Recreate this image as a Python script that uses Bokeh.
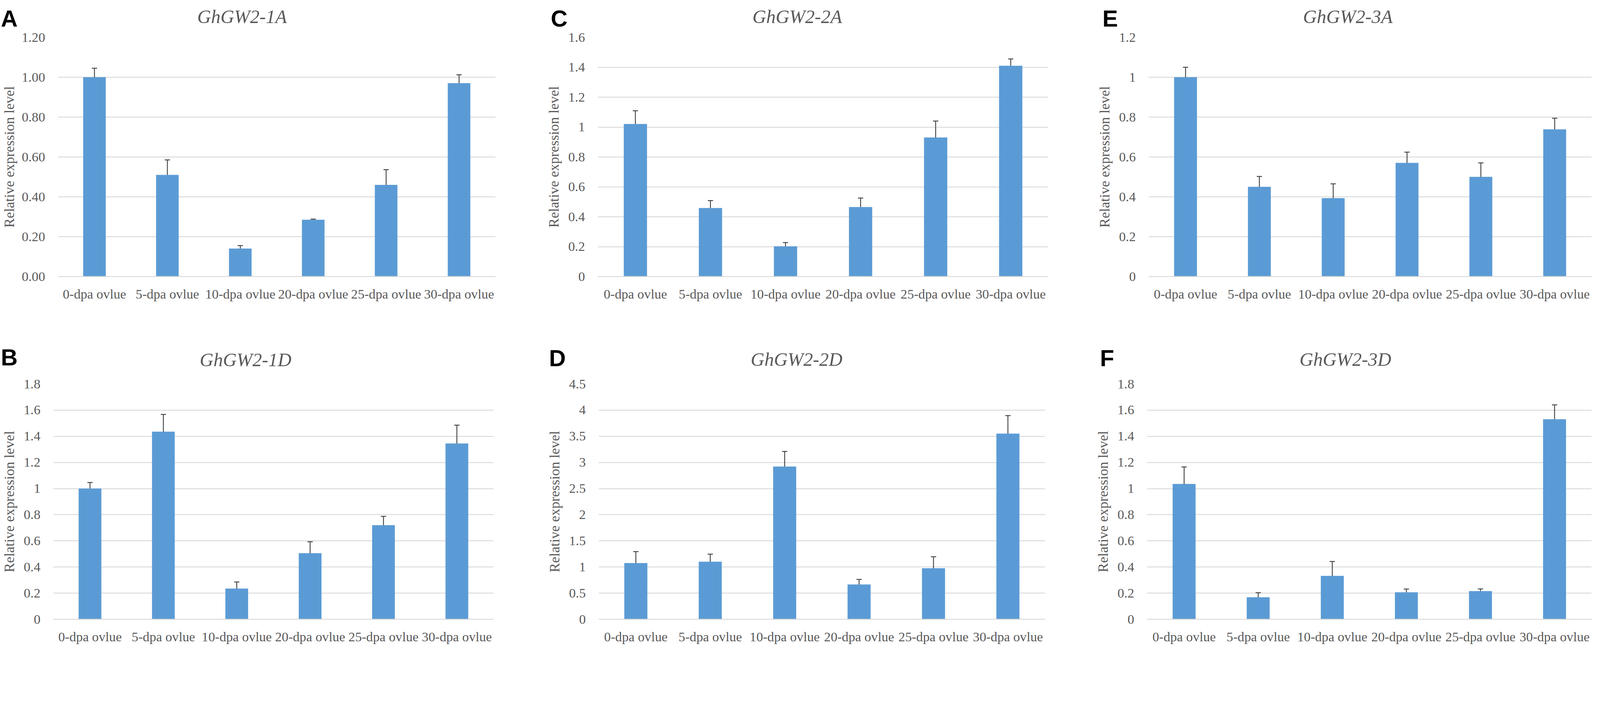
from bokeh.plotting import figure
from bokeh.layouts import column, row
from bokeh.models import (Range1d, FixedTicker, NumeralTickFormatter, Whisker,
                          ColumnDataSource, TeeHead)
from bokeh.core.properties import value
from bokeh.embed import file_html
from bokeh.resources import INLINE

# ---------------- data ----------------
categories = ["0-dpa ovlue", "5-dpa ovlue", "10-dpa ovlue",
              "20-dpa ovlue", "25-dpa ovlue", "30-dpa ovlue"]

genes = ["GhGW2-1A", "GhGW2-1D", "GhGW2-2A", "GhGW2-2D", "GhGW2-3A", "GhGW2-3D"]
letters = ["A", "B", "C", "D", "E", "F"]

vals_1A = [1.00, 0.51, 0.14, 0.285, 0.46, 0.97]
err_1A = [0.045, 0.075, 0.015, 0.003, 0.076, 0.042]

vals_1D = [1.00, 1.435, 0.235, 0.505, 0.72, 1.345]
err_1D = [0.046, 0.132, 0.05, 0.088, 0.067, 0.14]

vals_2A = [1.02, 0.458, 0.202, 0.465, 0.93, 1.41]
err_2A = [0.089, 0.05, 0.025, 0.06, 0.11, 0.045]

vals_2D = [1.075, 1.10, 2.92, 0.665, 0.975, 3.55]
err_2D = [0.22, 0.145, 0.29, 0.097, 0.22, 0.345]

vals_3A = [1.00, 0.45, 0.393, 0.57, 0.50, 0.738]
err_3A = [0.05, 0.052, 0.072, 0.054, 0.07, 0.056]

vals_3D = [1.035, 0.168, 0.332, 0.206, 0.215, 1.53]
err_3D = [0.13, 0.035, 0.11, 0.025, 0.017, 0.11]

ticks_1A = [0, 0.2, 0.4, 0.6, 0.8, 1.0, 1.2]
ticks_1D = [0, 0.2, 0.4, 0.6, 0.8, 1.0, 1.2, 1.4, 1.6, 1.8]
ticks_2A = [0, 0.2, 0.4, 0.6, 0.8, 1.0, 1.2, 1.4, 1.6]
ticks_2D = [0, 0.5, 1.0, 1.5, 2.0, 2.5, 3.0, 3.5, 4.0, 4.5]
ticks_3A = [0, 0.2, 0.4, 0.6, 0.8, 1.0, 1.2]
ticks_3D = [0, 0.2, 0.4, 0.6, 0.8, 1.0, 1.2, 1.4, 1.6, 1.8]

tick_formats = {"GhGW2-1A": "0.00"}

series = {
    "GhGW2-1A": (vals_1A, err_1A, ticks_1A),
    "GhGW2-1D": (vals_1D, err_1D, ticks_1D),
    "GhGW2-2A": (vals_2A, err_2A, ticks_2A),
    "GhGW2-2D": (vals_2D, err_2D, ticks_2D),
    "GhGW2-3A": (vals_3A, err_3A, ticks_3A),
    "GhGW2-3D": (vals_3D, err_3D, ticks_3D),
}

# ---------------- styling / layout ----------------
S = 0.90           # global scale (design pixels -> CSS pixels)
BAR = "#5B9BD5"
GRID = "#D9D9D9"
TXT = "#595959"
ERR = "#404040"
SERIF = "Liberation Serif"
LETTER_FS = 66
TITLE_FS = 54
LETTER_LIFT = 16   # compensation for the text box placement of the letters
TITLE_LIFT = 6
LEFT = 8
TOTAL_W = 4534


def px(v):
    return int(round(v * S))


def fs(v):
    return "%.1fpx" % (v * S)


# rows: (top, header bottom, bottom) in design px
rows_spec = [(8, 89, 925), (925, 1070, 1842)]
# columns: (left, width)
cols_spec = [(8, 1516), (1524, 1510), (3034, 1508)]

# gene -> (row, col, frame (l, r, t, b), letter (x, baseline), title (centre x, baseline))
panel_spec = {
    "GhGW2-1A": (0, 0, (160, 1417, 113, 794), (10, 76), (696, 61)),
    "GhGW2-2A": (0, 1, (1709, 2990, 114, 795), (1574, 76), (2275, 61)),
    "GhGW2-3A": (0, 2, (3275, 4535, 111, 795), (3143, 76), (3841, 61)),
    "GhGW2-1D": (1, 0, (143, 1412, 1100, 1777), (10, 1040), (706, 1037)),
    "GhGW2-2D": (1, 1, (1711, 2981, 1098, 1777), (1569, 1042), (2273, 1036)),
    "GhGW2-3D": (1, 2, (3271, 4535, 1100, 1779), (3136, 1042), (3834, 1036)),
}


def make_header(r, items):
    """One full-width header strip per row holding panel letters and gene titles."""
    top, hb, _ = rows_spec[r]
    hh = hb - top
    h = figure(x_range=Range1d(0, TOTAL_W), y_range=Range1d(0, hh),
               width=px(TOTAL_W), height=px(hh), output_backend="svg",
               toolbar_location=None, x_axis_location=None, y_axis_location=None,
               min_border=0)
    h.outline_line_color = None
    h.grid.visible = False
    h.background_fill_color = "white"
    h.border_fill_color = "white"
    lx, ly, lt, tx, ty, tt = [], [], [], [], [], []
    for gene, letter in items:
        _, _, _, (x0, lb), (tcx, tb) = panel_spec[gene]
        lx.append(x0 - LEFT)
        ly.append(hb - lb + LETTER_LIFT)
        lt.append(letter)
        tx.append(tcx - LEFT)
        ty.append(hb - tb + TITLE_LIFT)
        tt.append(gene)
    h.text(x=lx, y=ly, text=lt,
           text_font=value("Liberation Sans"), text_font_style=value("bold"),
           text_font_size=value(fs(LETTER_FS)), text_color=value("black"),
           text_align=value("left"), text_baseline=value("alphabetic"))
    h.text(x=tx, y=ty, text=tt,
           text_font=value(SERIF), text_font_style=value("italic"),
           text_font_size=value(fs(TITLE_FS)), text_color=value(TXT),
           text_align=value("center"), text_baseline=value("alphabetic"))
    return h


def make_chart(gene):
    vals, errs, ticks = series[gene]
    r, c, (fl, fr, ft, fb), _, _ = panel_spec[gene]
    _, hb, bottom = rows_spec[r]
    cx, cw = cols_spec[c]
    ch = bottom - hb
    bl, br = fl - cx, cx + cw - fr
    bt, bb = ft - hb, bottom - fb
    top = ticks[-1]

    src = ColumnDataSource(dict(
        cat=categories, val=vals,
        upper=[v + e for v, e in zip(vals, errs)],
        lower=[v - e for v, e in zip(vals, errs)],
    ))
    p = figure(x_range=categories, y_range=Range1d(0, top),
               width=px(cw), height=px(ch), output_backend="svg",
               toolbar_location=None,
               min_border_left=px(bl), min_border_right=px(br),
               min_border_top=px(bt), min_border_bottom=px(bb))
    p.outline_line_color = None
    p.background_fill_color = "white"
    p.border_fill_color = "white"

    p.vbar(x="cat", top="val", width=0.31, source=src,
           fill_color=BAR, line_color=None)

    wk = Whisker(base="cat", upper="upper", lower="lower", source=src,
                 line_color=ERR, line_width=2.5 * S,
                 upper_head=TeeHead(size=15 * S, line_color=ERR, line_width=2.5 * S),
                 lower_head=TeeHead(size=15 * S, line_color=ERR, line_width=2.5 * S))
    p.add_layout(wk)

    p.xgrid.grid_line_color = None
    p.ygrid.grid_line_color = GRID
    p.ygrid.grid_line_width = 2.5 * S

    ya = p.yaxis[0]
    ya.ticker = FixedTicker(ticks=ticks)
    ya.formatter = NumeralTickFormatter(format=tick_formats.get(gene, "0.[0]"))
    ya.axis_line_color = None
    ya.major_tick_line_color = None
    ya.minor_tick_line_color = None
    ya.major_label_text_font = SERIF
    ya.major_label_text_font_size = fs(38)
    ya.major_label_text_color = TXT
    ya.major_label_standoff = px(30)
    ya.axis_label = "Relative expression level"
    ya.axis_label_text_font = SERIF
    ya.axis_label_text_font_style = "normal"
    ya.axis_label_text_font_size = fs(40)
    ya.axis_label_text_color = TXT
    ya.axis_label_standoff = px(10 if gene == "GhGW2-1A" else 16)

    xa = p.xaxis[0]
    xa.axis_line_color = GRID
    xa.axis_line_width = 2.5 * S
    xa.major_tick_line_color = None
    xa.minor_tick_line_color = None
    xa.major_label_text_font = SERIF
    xa.major_label_text_font_size = fs(38)
    xa.major_label_text_color = TXT
    xa.major_label_standoff = px(22)
    return p


top_items = [("GhGW2-1A", "A"), ("GhGW2-2A", "C"), ("GhGW2-3A", "E")]
bottom_items = [("GhGW2-1D", "B"), ("GhGW2-2D", "D"), ("GhGW2-3D", "F")]

layout = column(
    make_header(0, top_items),
    row(*[make_chart(g) for g, _ in top_items]),
    make_header(1, bottom_items),
    row(*[make_chart(g) for g, _ in bottom_items]),
)

open("out.html", "w").write(file_html(layout, INLINE))
